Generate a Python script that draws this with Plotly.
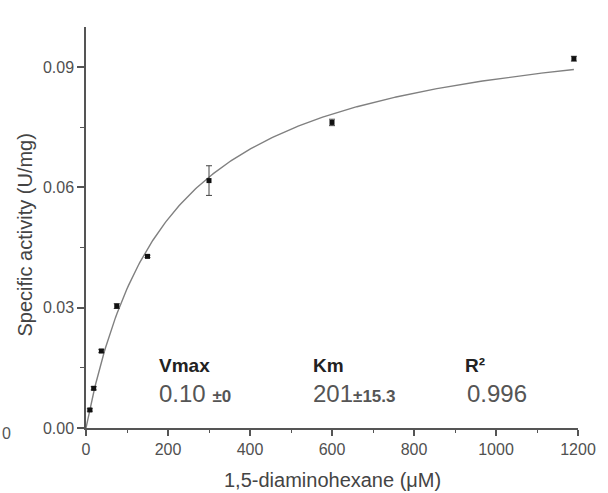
import numpy as np
import plotly.graph_objects as go

# ---- data ----
substrate_uM = [9.375, 18.75, 37.5, 75, 150, 300, 600, 1190]
activity = [0.0045, 0.0099, 0.0192, 0.0304, 0.0428, 0.0617, 0.0762, 0.0921]
activity_err = [0.0003, 0.0004, 0.0004, 0.0006, 0.0003, 0.0037, 0.0008, 0.0006]

# Michaelis-Menten fit parameters (curve drawn in the reference)
VMAX_FIT = 0.1045
KM_FIT = 201.0
fit_x = np.linspace(0, 1190, 300)
fit_y = VMAX_FIT * fit_x / (KM_FIT + fit_x)

x_ticks = [0, 200, 400, 600, 800, 1000, 1200]
y_ticks = [0.00, 0.03, 0.06, 0.09]
y_tick_labels = ["0.00", "0.03", "0.06", "0.09"]

param_labels = ["Vmax", "Km", "R²"]
param_values = ["0.10 ", "201", "0.996"]
param_errors = ["±0", "±15.3", ""]

FONT = "Liberation Sans, Arial, sans-serif"
W, H = 608, 493
ML, MR, MT, MB = 86, 26, 27, 65
PW, PH = W - ML - MR, H - MT - MB


def px(xp):
    return (xp - ML) / PW


def py(yp):
    return (H - MB - yp) / PH


fig = go.Figure()
fig.add_trace(go.Scatter(
    x=fit_x, y=fit_y, mode="lines",
    line=dict(color="#808080", width=1.4),
    hoverinfo="skip", showlegend=False,
))
fig.add_trace(go.Scatter(
    x=substrate_uM, y=activity, mode="markers",
    marker=dict(symbol="square", size=5, color="#111111"),
    error_y=dict(type="data", array=activity_err, visible=True,
                 color="#444444", thickness=1, width=3),
    showlegend=False,
))

axis_common = dict(
    showline=True, linecolor="#555555", linewidth=1.5,
    showgrid=False, zeroline=False, ticks="outside",
    tickcolor="#555555", tickwidth=1.5,
    tickfont=dict(family=FONT, size=16, color="#505050"),
)

fig.update_xaxes(
    range=[0, 1200], tickvals=x_ticks, ticklen=6,
    minor=dict(dtick=100, tick0=0, ticks="outside", ticklen=3,
               tickcolor="#555555", tickwidth=1.2),
    **axis_common,
)
fig.update_yaxes(
    range=[0, 0.1], tickvals=y_ticks, ticktext=y_tick_labels, ticklen=7,
    minor=dict(dtick=0.015, tick0=0, ticks="outside", ticklen=4,
               tickcolor="#555555", tickwidth=1.2),
    **axis_common,
)

annotations = []
# axis titles
annotations.append(dict(
    text="Specific activity (U/mg)", xref="paper", yref="paper",
    x=px(25), y=py(235), textangle=-90, showarrow=False,
    xanchor="center", yanchor="middle",
    font=dict(family=FONT, size=20, color="#444444"),
))
annotations.append(dict(
    text="1,5-diaminohexane (μM)", xref="paper", yref="paper",
    x=0.5, y=py(480), showarrow=False, xanchor="center", yanchor="middle",
    font=dict(family=FONT, size=20, color="#444444"),
))
# parameter table
label_left = [158, 313, 466]
value_left = [158, 313, 468]
for lab, val, err, lx, vx in zip(param_labels, param_values, param_errors,
                                 label_left, value_left):
    annotations.append(dict(
        text=f"<b>{lab}</b>", xref="paper", yref="paper",
        x=px(lx), y=py(365), showarrow=False, xanchor="left", yanchor="middle",
        font=dict(family=FONT, size=19, color="#222222"),
    ))
    txt = val
    if err:
        txt += f"<span style='font-size:17px'><b>{err}</b></span>"
    annotations.append(dict(
        text=txt, xref="paper", yref="paper",
        x=px(vx), y=py(393), showarrow=False, xanchor="left", yanchor="middle",
        font=dict(family=FONT, size=24, color="#555555"),
    ))
# stray label from a neighbouring panel at the left edge
annotations.append(dict(
    text="0", xref="paper", yref="paper", x=px(6), y=py(433),
    showarrow=False, xanchor="center", yanchor="middle",
    font=dict(family=FONT, size=16, color="#555555"),
))

fig.update_layout(
    width=W, height=H,
    margin=dict(l=ML, r=MR, t=MT, b=MB, pad=0),
    paper_bgcolor="white", plot_bgcolor="white",
    annotations=annotations,
    showlegend=False,
)

fig.write_html("out.html")
